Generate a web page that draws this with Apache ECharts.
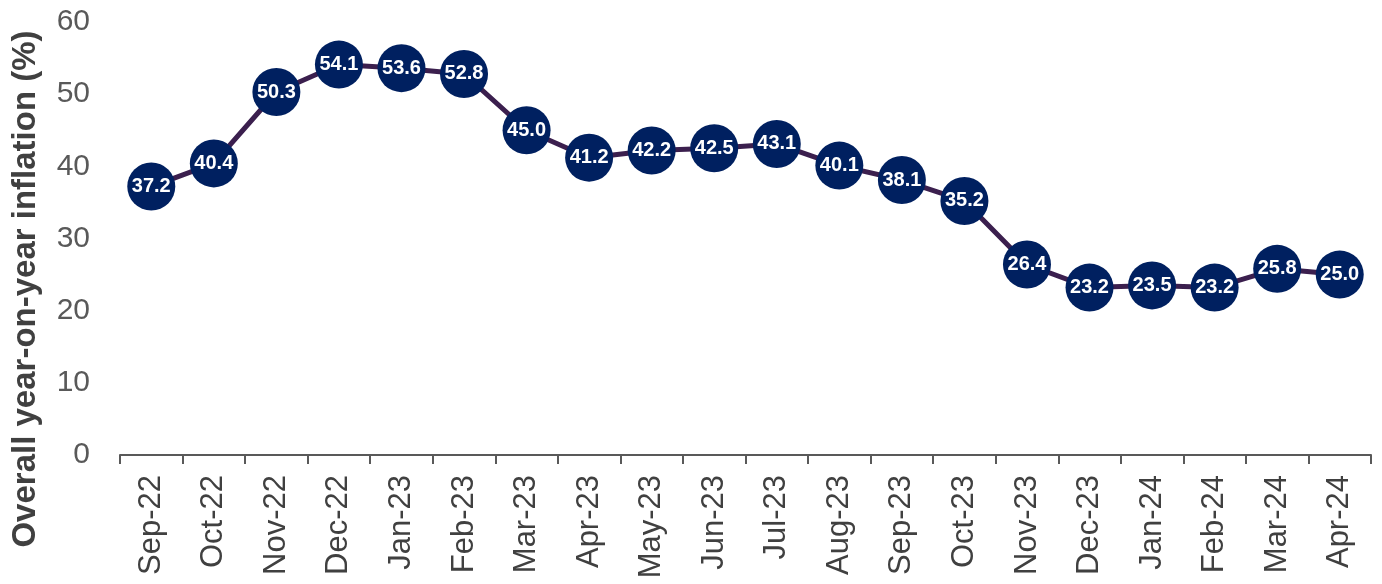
<!DOCTYPE html>
<html>
<head>
<meta charset="utf-8">
<script src="https://cdn.jsdelivr.net/npm/echarts@6/dist/echarts.min.js"></script>
<style>html,body{margin:0;padding:0;background:#fff;}#c{width:1382px;height:584px;}</style>
</head>
<body>
<div id="c"></div>
<script>
const categories = ['Sep-22','Oct-22','Nov-22','Dec-22','Jan-23','Feb-23','Mar-23','Apr-23','May-23','Jun-23','Jul-23','Aug-23','Sep-23','Oct-23','Nov-23','Dec-23','Jan-24','Feb-24','Mar-24','Apr-24'];
const inflation = [37.2,40.4,50.3,54.1,53.6,52.8,45.0,41.2,42.2,42.5,43.1,40.1,38.1,35.2,26.4,23.2,23.5,23.2,25.8,25.0];
const yTicks = [0,10,20,30,40,50,60];
const axisTitle = 'Overall year-on-year inflation (%)';

const chart = echarts.init(document.getElementById('c'));
chart.setOption({
  animation: false,
  backgroundColor: '#ffffff',
  grid: {left: 120, right: 11, top: 22, bottom: 129, containLabel: false},
  xAxis: {
    type: 'category',
    data: categories,
    boundaryGap: true,
    axisLine: {show: true, lineStyle: {color: '#595959', width: 2}},
    axisTick: {show: true, inside: false, length: 9, alignWithLabel: false, lineStyle: {color: '#595959', width: 2}},
    axisLabel: {rotate: 90, margin: 20, fontFamily: 'Liberation Sans, Arial', fontSize: 31, color: '#404040', interval: 0}
  },
  yAxis: {
    type: 'value',
    min: yTicks[0],
    max: yTicks[yTicks.length-1],
    interval: 10,
    axisLine: {show: false},
    axisTick: {show: false},
    splitLine: {show: false},
    axisLabel: {margin: 30, fontFamily: 'Liberation Sans, Arial', fontSize: 30, color: '#595959'}
  },
  graphic: [{
    type: 'text',
    rotation: Math.PI/2,
    position: [26, 289],
    style: {
      text: axisTitle,
      x: 0, y: 0,
      fontFamily: 'Liberation Sans, Arial',
      fontWeight: 'bold',
      fontSize: 33,
      fill: '#404040',
      textAlign: 'center',
      textVerticalAlign: 'middle'
    }
  }],
  series: [{
    type: 'line',
    data: inflation,
    symbol: 'circle',
    symbolSize: 48,
    lineStyle: {color: '#3b1f4e', width: 5},
    itemStyle: {color: '#002060', borderWidth: 0},
    label: {
      show: true,
      position: 'inside',
      formatter: p => p.value.toFixed(1),
      color: '#ffffff',
      fontFamily: 'Liberation Sans, Arial',
      fontWeight: 'bold',
      fontSize: 20
    },
    emphasis: {disabled: true}
  }]
});
</script>
</body>
</html>
